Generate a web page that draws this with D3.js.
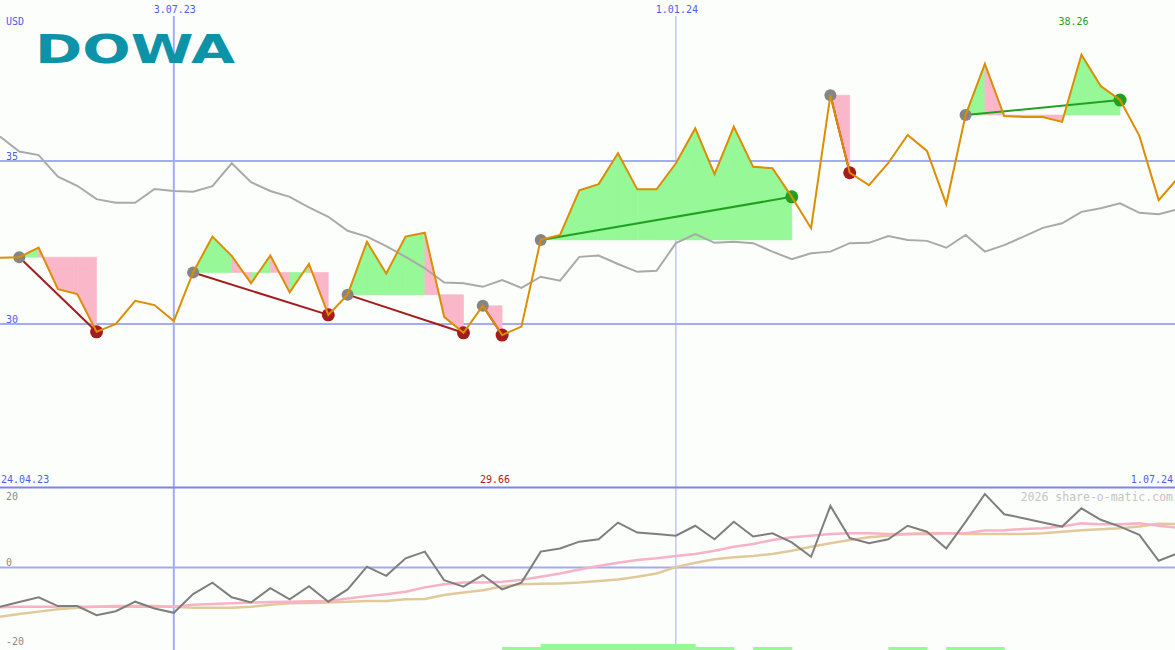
<!DOCTYPE html>
<html><head><meta charset="utf-8">
<script src="https://cdn.jsdelivr.net/npm/d3@7"></script>
<style>html,body{margin:0;padding:0;background:#fcfefc;} svg{display:block;}</style>
</head><body>
<svg id="c" width="1175" height="650"></svg>
<script>
// ---------- data ----------
const dates = [
"2023-05-01","2023-05-08","2023-05-15","2023-05-22","2023-05-29",
"2023-06-05","2023-06-12","2023-06-19","2023-06-26",
"2023-07-03","2023-07-10","2023-07-17","2023-07-24","2023-07-31",
"2023-08-07","2023-08-14","2023-08-21","2023-08-28",
"2023-09-04","2023-09-11","2023-09-18","2023-09-25",
"2023-10-02","2023-10-09","2023-10-16","2023-10-23","2023-10-30",
"2023-11-06","2023-11-13","2023-11-20","2023-11-27",
"2023-12-04","2023-12-11","2023-12-18","2023-12-25",
"2024-01-01","2024-01-08","2024-01-15","2024-01-22","2024-01-29",
"2024-02-05","2024-02-12","2024-02-19","2024-02-26",
"2024-03-04","2024-03-11","2024-03-18","2024-03-25",
"2024-04-01","2024-04-08","2024-04-15","2024-04-22","2024-04-29",
"2024-05-06","2024-05-13","2024-05-20","2024-05-27",
"2024-06-03","2024-06-10","2024-06-17","2024-06-24",
"2024-07-01"];

const closePrice = [
32.03,32.05,32.34,31.07,30.92,29.76,30.00,30.71,30.58,30.09,
31.58,32.68,32.09,31.25,32.10,30.97,31.84,30.28,30.90,32.52,
31.55,32.68,32.80,30.22,29.73,30.56,29.66,29.92,32.58,32.73,
34.10,34.29,35.24,34.13,34.13,34.93,36.00,34.60,36.05,34.82,
34.78,33.90,32.94,37.02,34.64,34.26,34.94,35.80,35.31,33.68,
36.41,37.98,36.38,36.35,36.35,36.20,38.26,37.30,36.87,35.77,
33.80,34.48];

const movingAvg = [
35.75,35.29,35.18,34.52,34.24,33.83,33.72,33.72,34.14,34.08,
34.06,34.23,34.93,34.35,34.08,33.90,33.58,33.29,32.86,32.68,
32.39,32.06,31.71,31.27,31.25,31.14,31.35,31.11,31.45,31.33,
32.06,32.10,31.84,31.60,31.63,32.48,32.76,32.49,32.52,32.48,
32.22,31.99,32.17,32.22,32.48,32.49,32.70,32.58,32.55,32.34,
32.73,32.22,32.42,32.68,32.95,33.09,33.44,33.55,33.70,33.41,
33.37,33.52];

const momentum = [
-9.9,-8.7,-7.5,-9.7,-9.7,-12.0,-11.0,-8.6,-10.3,-11.4,
-6.7,-3.8,-7.5,-8.8,-5.2,-8.0,-4.7,-8.6,-5.5,0.2,
-2.1,2.3,4.0,-3.2,-4.8,-1.9,-5.5,-3.8,4.0,4.8,
6.5,7.1,11.3,8.8,8.4,8.0,10.5,7.1,11.5,7.8,
8.6,6.3,2.7,15.5,7.4,6.1,7.1,10.5,9.0,4.8,
11.5,18.5,13.4,12.4,11.3,10.3,14.9,12.0,10.3,8.2,
1.7,3.6];

const momentumFast = [
-10.0,-9.9,-9.9,-9.9,-9.9,-9.9,-9.9,-9.9,-9.9,-9.9,
-9.4,-9.2,-9.0,-8.8,-8.7,-8.6,-8.5,-8.4,-7.8,-7.2,
-6.7,-6.1,-5.0,-4.2,-3.8,-3.8,-3.6,-3.1,-2.3,-1.5,
-0.5,0.4,1.2,1.9,2.3,2.9,3.4,4.2,5.2,5.9,
6.9,7.6,8.0,8.4,8.6,8.6,8.4,8.4,8.4,8.6,
8.6,9.3,9.4,9.7,9.9,10.3,11.1,10.9,10.9,11.1,
10.5,10.0];

const momentumSlow = [
-12.4,-11.7,-11.1,-10.5,-10.1,-9.9,-9.7,-9.7,-9.7,-9.9,
-10.1,-10.1,-10.1,-9.9,-9.4,-9.0,-8.9,-8.8,-8.6,-8.4,
-8.4,-8.0,-7.9,-6.9,-6.3,-5.7,-4.8,-4.2,-4.1,-4.0,
-3.8,-3.4,-3.0,-2.3,-1.5,0.1,1.2,2.1,2.6,2.9,
3.4,4.2,5.2,6.1,6.9,7.6,8.0,8.4,8.6,8.6,
8.4,8.4,8.4,8.4,8.6,9.0,9.4,9.6,9.9,10.3,
11.0,10.9];

const signalBars = [
0,0,0,0,0,0,0,0,0,0,
0,0,0,0,0,0,0,0,0,0,
0,0,0,0,0,0,1,1,2,2,
2,2,2,2,2,2,1,1,0,1,
1,0,0,0,0,0,1,1,0,1,
1,1,0,0,0,0,0,0,0,0,
0,0];

const trendStart = [1, 10, 18, 25, 28, 43, 50];
const trendEnd   = [5, 17, 24, 26, 41, 44, 58];

const priceTicks = [30, 35];
const momentumTicks = [20, 0, -20];
const dateTicks = ["2023-07-03", "2024-01-01"];
const dateTickLabels = ["3.07.23", "1.01.24"];
const rangeStartLabel = "24.04.23";
const rangeEndLabel = "1.07.24";
const currency = "USD";
const title = "DOWA";
const watermark = "2026 share-o-matic.com";

// ---------- scales ----------
const parse = d3.utcParse("%Y-%m-%d");
const D = dates.map(parse);
const x = d3.scaleUtc().domain([parse("2023-05-01"), parse("2024-07-01")]).range([0, 1178]);
const y = d3.scaleLinear().domain([30, 35]).range([324, 161]);
const ym = d3.scaleLinear().domain([-20, 20]).range([647, 488]);
const yb = d3.scaleLinear().domain([0, 2]).range([650, 644]);

const svg = d3.select("#c");
const C = {
  grid: "#a3acf2", sep: "#7b85ea", blue: "#4d5cf0",
  orange: "#dc8e00", avg: "#a9a9a9", green: "#96f896", pink: "#f9b7c9",
  up: "#22a022", down: "#a51c1c", dot: "#858585",
  mom: "#7e7e7e", momFast: "#f8b2c6", momSlow: "#e2c99c"
};
const mono = "'DejaVu Sans Mono', monospace";

svg.append("rect").attr("width",1175).attr("height",650).attr("fill","#fcfefc");

// ---------- grid ----------
priceTicks.forEach(t => {
  svg.append("line").attr("x1",0).attr("x2",1175).attr("y1",y(t)).attr("y2",y(t))
    .attr("stroke",C.grid).attr("stroke-width",2);
  svg.append("text").attr("x",6).attr("y",y(t)-1).text(t)
    .attr("font-family",mono).attr("font-size",10).attr("fill",C.blue);
});
svg.append("line").attr("x1",0).attr("x2",1175).attr("y1",ym(0)).attr("y2",ym(0))
  .attr("stroke",C.grid).attr("stroke-width",2);
dateTicks.forEach((d,k) => {
  const xx = x(parse(d));
  svg.append("line").attr("x1",xx).attr("x2",xx).attr("y1",16).attr("y2",650)
    .attr("stroke",C.grid).attr("stroke-width", k === 0 ? 2 : 1);
  svg.append("text").attr("x",xx+1).attr("y",13).attr("text-anchor","middle").text(dateTickLabels[k])
    .attr("font-family",mono).attr("font-size",10).attr("fill",C.blue);
});
svg.append("line").attr("x1",0).attr("x2",1175).attr("y1",ym(20)-0.5).attr("y2",ym(20)-0.5)
  .attr("stroke",C.sep).attr("stroke-width",2);

// ---------- trend fills ----------
const area2 = d3.area().x(d => d.x).y0(d => d.y0).y1(d => d.y1);
trendStart.forEach((s, k) => {
  const e = trendEnd[k];
  const level = closePrice[s];
  for (let i = s; i < e; i++) {
    const pts = [
      {x: x(D[i]), y0: y(level), y1: y(closePrice[i])},
      {x: x(D[i+1]), y0: y(level), y1: y(closePrice[i+1])}
    ];
    const col = closePrice[i+1] >= level ? C.green : C.pink;
    svg.append("path").attr("d", area2(pts))
      .attr("fill", col).attr("stroke", col).attr("stroke-width", 0.6);
  }
});

// ---------- moving average ----------
const line = d3.line().x((d,i) => x(D[i])).y(d => y(d));
svg.append("path").attr("d", line(movingAvg)).attr("fill","none")
  .attr("stroke",C.avg).attr("stroke-width",2);

// ---------- trend lines & dots ----------
trendStart.forEach((s, k) => {
  const e = trendEnd[k];
  const col = closePrice[e] >= closePrice[s] ? C.up : C.down;
  svg.append("line").attr("x1",x(D[s])).attr("y1",y(closePrice[s]))
    .attr("x2",x(D[e])).attr("y2",y(closePrice[e]))
    .attr("stroke",col).attr("stroke-width",2);
  svg.append("circle").attr("cx",x(D[s])).attr("cy",y(closePrice[s])).attr("r",6).attr("fill",C.dot);
  svg.append("circle").attr("cx",x(D[e])).attr("cy",y(closePrice[e])).attr("r",6.5).attr("fill",col);
});

// ---------- price line ----------
svg.append("path").attr("d", line(closePrice)).attr("fill","none")
  .attr("stroke",C.orange).attr("stroke-width",2).attr("stroke-linejoin","miter");

// ---------- lower panel ----------
signalBars.forEach((v,i) => {
  if (v > 0 && i < D.length - 1) {
    svg.append("rect").attr("x", x(D[i])).attr("width", x(D[i+1]) - x(D[i]) + 0.5)
      .attr("y", yb(v)).attr("height", yb(0) - yb(v)).attr("fill", C.green);
  }
});
const mline = d3.line().x((d,i) => x(D[i])).y(d => ym(d));
svg.append("path").attr("d", mline(momentumSlow)).attr("fill","none")
  .attr("stroke",C.momSlow).attr("stroke-width",2.5);
svg.append("path").attr("d", mline(momentumFast)).attr("fill","none")
  .attr("stroke",C.momFast).attr("stroke-width",2.5);
svg.append("path").attr("d", mline(momentum)).attr("fill","none")
  .attr("stroke",C.mom).attr("stroke-width",2);

momentumTicks.forEach(t => {
  svg.append("text").attr("x",6).attr("y", Math.max(ym(t) - 2, 500)).text(t)
    .attr("font-family",mono).attr("font-size",10).attr("fill","#8a8a8a");
});

// ---------- labels ----------
const maxI = d3.maxIndex(closePrice), minI = d3.minIndex(closePrice);
svg.append("text").attr("x", x(D[maxI]) - 8).attr("y", 25).attr("text-anchor","middle")
  .text(closePrice[maxI].toFixed(2)).attr("font-family",mono).attr("font-size",10).attr("fill",C.up);
svg.append("text").attr("x", x(D[minI]) - 7).attr("y", 483).attr("text-anchor","middle")
  .text(closePrice[minI].toFixed(2)).attr("font-family",mono).attr("font-size",10).attr("fill",C.down);
svg.append("text").attr("x",1).attr("y",483).text(rangeStartLabel)
  .attr("font-family",mono).attr("font-size",10).attr("fill",C.blue);
svg.append("text").attr("x",1173).attr("y",483).attr("text-anchor","end").text(rangeEndLabel)
  .attr("font-family",mono).attr("font-size",10).attr("fill",C.blue);
svg.append("text").attr("x",1173).attr("y",501).attr("text-anchor","end").text(watermark)
  .attr("font-family",mono).attr("font-size",11.5).attr("fill","#c4c4c4");
svg.append("text").attr("x",6).attr("y",25).text(currency)
  .attr("font-family",mono).attr("font-size",10).attr("fill",C.blue);

// ---------- logo ----------
svg.append("text").attr("x",35).attr("y",63).text(title)
  .attr("font-family","'DejaVu Sans', sans-serif").attr("font-weight","bold")
  .attr("font-size",38.5).attr("textLength",200).attr("lengthAdjust","spacingAndGlyphs")
  .attr("fill","#0c93a8");
</script>
</body></html>
